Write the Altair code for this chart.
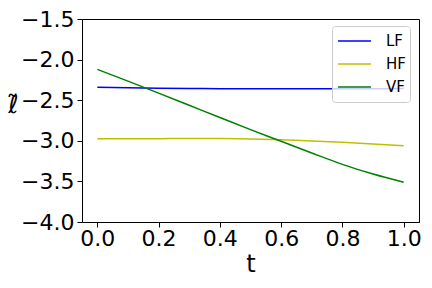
import altair as alt
import pandas as pd

t_vals = [0.0, 0.1, 0.2, 0.3, 0.4, 0.5, 0.6, 0.7, 0.8, 0.9, 1.0]
lf_vals = [-2.340, -2.348, -2.353, -2.356, -2.358, -2.359, -2.360, -2.360, -2.360, -2.358, -2.355]
hf_vals = [-2.975, -2.975, -2.974, -2.972, -2.972, -2.977, -2.988, -3.002, -3.018, -3.038, -3.060]
vf_vals = [-2.120, -2.265, -2.413, -2.563, -2.713, -2.862, -3.006, -3.150, -3.290, -3.410, -3.510]
series_names = ["LF", "HF", "VF"]
series_colors = ["#0000ff", "#bfbf00", "#008000"]
x_ticks = [0.0, 0.2, 0.4, 0.6, 0.8, 1.0]
y_ticks = [-4.0, -3.5, -3.0, -2.5, -2.0, -1.5]

rows = []
for name, vals in zip(series_names, [lf_vals, hf_vals, vf_vals]):
    for t, v in zip(t_vals, vals):
        rows.append({"t": t, "value": v, "series": name})
df = pd.DataFrame(rows)

font = "DejaVu Sans"

chart = alt.Chart(df).mark_line(strokeWidth=1.5, interpolate="monotone").encode(
    x=alt.X("t:Q",
            scale=alt.Scale(domain=[-0.05, 1.05], nice=False, zero=False),
            axis=alt.Axis(values=x_ticks, format=".1f", title="t", grid=False,
                          labelFontSize=22, titleFontSize=24, titleFontWeight="normal",
                          labelColor="black", titleColor="black", tickColor="black",
                          domainColor="black", tickSize=5, labelPadding=1,
                          titlePadding=3, labelFont=font, titleFont=font)),
    y=alt.Y("value:Q",
            scale=alt.Scale(domain=[-4.0, -1.5], nice=False, zero=False),
            axis=alt.Axis(values=y_ticks, format=".1f", title="ℓ̃", grid=False,
                          labelFontSize=22, titleFontSize=25, titleFontWeight="normal",
                          labelColor="black", titleColor="black", tickColor="black",
                          domainColor="black", tickSize=5, labelPadding=3,
                          titleAngle=0, titleX=-69, titleY=85, titleAlign="center",
                          titleBaseline="middle",
                          labelFont=font, titleFont=font)),
    color=alt.Color("series:N",
                    scale=alt.Scale(domain=series_names, range=series_colors),
                    sort=series_names,
                    legend=alt.Legend(title=None, orient="none", legendX=250, legendY=7,
                                      symbolType="stroke", symbolSize=1089,
                                      symbolStrokeWidth=1.5, symbolOffset=1,
                                      labelFontSize=15,
                                      labelFont=font, labelColor="black",
                                      strokeColor="#cccccc", cornerRadius=3,
                                      padding=4, fillColor="rgba(255,255,255,0.8)",
                                      clipHeight=22, labelOffset=14, rowPadding=1)),
).properties(
    width=337, height=203,
    background="white",
    autosize=alt.AutoSizeParams(type="none"),
    padding={"left": 74, "top": 11, "right": 5, "bottom": 58},
).configure_view(stroke="black", strokeWidth=1)

chart.save("out.html", embed_options={"renderer": "svg", "actions": False})
